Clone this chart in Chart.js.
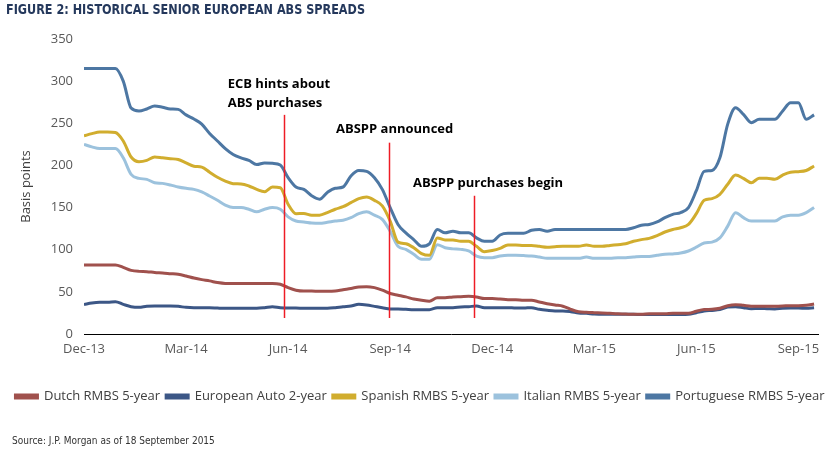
<!DOCTYPE html>
<html><head><meta charset="utf-8">
<script src="https://cdn.jsdelivr.net/npm/chart.js@4.4.1/dist/chart.umd.min.js"></script>
<style>
html,body{margin:0;padding:0;background:#fff;}
canvas{display:block;}
</style></head>
<body>
<canvas id="c" width="834" height="456"></canvas>
<script>
// ---------------- data ----------------
const titleText = 'FIGURE 2: HISTORICAL SENIOR EUROPEAN ABS SPREADS';
const sourceText = 'Source: J.P. Morgan as of 18 September 2015';
const yAxisTitle = 'Basis points';
const tickLabels = ['Dec-13','Mar-14','Jun-14','Sep-14','Dec-14','Mar-15','Jun-15','Sep-15'];
const tickWeeks = [0, 13, 26, 39, 52, 65, 78, 91];
const seriesNames = ['Dutch RMBS 5-year','European Auto 2-year','Spanish RMBS 5-year','Italian RMBS 5-year','Portuguese RMBS 5-year'];

// weekly observations, Dec-13 .. 18 Sep 2015 (basis points)
const dutch = [82,82,82,82,82,79,75.5,74.3,74,73,72.4,71.6,70.8,68.8,66.4,64.5,63,61,60,60,60,60,60,60,60,
  59,55,52,51,51,50.6,50.6,51,52.6,54,55.8,56.2,55,52,48,46,44,41.5,40,39,43,43,44,44.3,
  44.7,44,42,42,41.5,40.7,40.7,40,40,38,36,34.4,33,29.3,26.5,25.7,25.3,25,24.5,24,23.7,23.3,23.3,24,24,24,24.5,24.5,24.5,
  27,29,29.3,30.5,33.6,34.8,34,33,33,33,33,33.2,33.6,33.6,34,35.6];
const auto = [35,36.8,37.6,37.6,38.4,35.2,32.4,31.6,32.8,33.2,33.2,33.2,32.8,31.6,31.2,31.2,31.2,30.8,30.5,30.5,30.5,30.5,30.5,31.2,32.4,
  31.2,30.8,30.8,30.5,30.5,30.5,30.5,31.2,32.4,33.2,35.2,34.4,32.8,31.2,29.7,29.7,29.3,28.9,28.9,28.9,31.2,31.2,31.2,32,
  32.4,33.2,31.2,31.2,31.2,31.2,30.8,30.8,31.2,29.3,28.1,27.3,27.3,26.5,25,24.5,23.7,23.3,23.3,23.3,23.3,23.3,23,23,23,23,23,23,23.3,
  25.3,27.3,28,28.9,32,32.4,31.2,30,30.3,30,29.7,30.5,30.8,30.8,30.5,31.2];
const spanish = [235,237.7,239.7,239.7,239,229,210,204.5,206,210,209,208,207,203,199,198,192,186,181.5,178.4,178,175.6,171.6,168.9,174.4,
  173.6,154,142.8,143,141,141,144,148,151,155.8,160.6,162.5,158.6,152,134,109,107,102.4,95.3,93.3,114,111.5,111.5,110,
  110,104,97.7,99,101.6,105.6,105.6,105,105,104,103,103.6,104,104,104,105.6,104,104,105,106,107,110,112,113.5,116.7,121,124,126,130,
  142.8,158.6,160.6,165.7,177.6,188.6,184.7,179.5,184.7,184.7,183.5,188.6,192,192.6,194,199.3];
const italian = [225,222,220,220,220,209,189.4,184.7,183.5,179.5,178.7,176.8,174.4,172.8,171.6,168.5,163.7,158.6,153,150,150,148,145,148,150,
  148,139,134,133,131.7,131.3,132.5,134,135,138,142.8,145,141,136,122,104,100.4,94.5,88.6,88.6,106,102.4,101,100.4,
  98.5,92.5,90.6,90.6,92.5,93.3,93.3,93,92.5,91.3,89.8,89.8,89.8,89.8,89.8,91.3,89.8,89.8,89.8,90.6,90.6,91.3,92,92,93.3,94.5,95,96,98.5,
  103,108,109,114,128,144,138,134,134,134,134,139,141,141,144,150];
const portuguese = [315,315,315,315,315,300,268,264.5,267,270.5,269,267,266.5,260,255,249,238,229,220,213,209,206,201,203,202.5,
  200.5,185.5,174.4,171.6,164,160,168,173,174.4,187.5,194,193,185.5,171.6,150,130,120,112,104,107,124,120,122,120,
  120,114,110,110,117.5,119.4,119.4,119.4,123,124,122,124,124,124,124,124,124,124,124,124,124,126,129,130,133,138,142,144,150,
  170,193,194,209,249,268.5,260.6,250.7,254.7,254.7,254.7,264.6,274.4,274.4,254.7,260];

// event annotations (week of event, top of marker in bp)
const eventWeeks = [25.5, 38.8, 49.7];
const eventTops = [260, 227, 164];
const eventBottom = 19;
const eventLabels = [['ECB hints about','ABS purchases'], ['ABSPP announced'], ['ABSPP purchases begin']];
const eventLabelWeeks = [18.3, 32.1, 41.9];
const eventLabelValues = [296.5, 243, 179];

// ---------------- styles ----------------
const colors = ['#a0514d', '#3c5786', '#d1ad2e', '#9cc2dd', '#4d77a3'];
const seriesValues = [dutch, auto, spanish, italian, portuguese];
const FONT = '"Open Sans", "Segoe UI", sans-serif';
const NARROW = '"Liberation Sans Narrow", "DejaVu Sans Condensed", sans-serif';

function fitText(ctx, text, x, y, font, targetWidth) {
  ctx.font = font;
  const w = ctx.measureText(text).width;
  const k = Math.min(1, targetWidth / w);
  ctx.save();
  ctx.translate(x, y);
  ctx.scale(k, 1);
  ctx.fillText(text, 0, 0);
  ctx.restore();
}

const overlay = {
  id: 'overlay',
  afterDatasetsDraw(chart) {
    const {ctx, scales: {x, y}} = chart;
    ctx.save();
    ctx.strokeStyle = '#ee1c25';
    ctx.lineWidth = 1.5;
    eventWeeks.forEach((w, i) => {
      const px = Math.round(x.getPixelForValue(w)) + 0.5;
      ctx.beginPath();
      ctx.moveTo(px, y.getPixelForValue(eventTops[i]));
      ctx.lineTo(px, y.getPixelForValue(eventBottom));
      ctx.stroke();
    });
    ctx.fillStyle = '#000';
    ctx.font = 'bold 13px ' + FONT;
    ctx.textAlign = 'left';
    ctx.textBaseline = 'middle';
    eventLabels.forEach((lines, i) => {
      const lx = x.getPixelForValue(eventLabelWeeks[i]);
      const ly = y.getPixelForValue(eventLabelValues[i]);
      lines.forEach((t, j) => ctx.fillText(t, lx, ly + j * 19));
    });
    ctx.restore();
  },
  afterDraw(chart) {
    const ctx = chart.ctx;
    ctx.save();
    ctx.textAlign = 'left';
    ctx.textBaseline = 'middle';
    ctx.fillStyle = '#24385c';
    fitText(ctx, titleText, 6, 10, 'bold 14px ' + NARROW, 359);
    ctx.fillStyle = '#333';
    fitText(ctx, sourceText, 12, 441, '10px ' + NARROW, 204);
    ctx.restore();
  }
};

new Chart(document.getElementById('c'), {
  type: 'line',
  data: {
    datasets: seriesNames.map((name, k) => ({
      label: name,
      data: seriesValues[k].map((v, i) => ({x: i, y: v})),
      borderColor: colors[k],
      backgroundColor: colors[k],
      borderWidth: 3,
      pointRadius: 0,
      tension: 0.2,
      cubicInterpolationMode: 'monotone',
      fill: false
    }))
  },
  options: {
    responsive: false,
    animation: false,
    layout: {padding: {top: 39, right: 0, bottom: 43, left: 6}},
    plugins: {
      title: {display: false},
      tooltip: {enabled: false},
      legend: {
        position: 'bottom',
        labels: {
          boxWidth: 22, boxHeight: 3, padding: 6,
          color: '#404040',
          font: {family: FONT, size: 13}
        }
      }
    },
    scales: {
      x: {
        type: 'linear', min: 0, max: 93.5,
        grid: {display: false, drawTicks: false},
        border: {display: true, color: '#000', width: 1},
        afterBuildTicks: s => { s.ticks = tickWeeks.map(v => ({value: v})); },
        afterFit: s => { s.height = 50; },
        ticks: {
          autoSkip: false, maxRotation: 0, padding: 7,
          color: '#595959', font: {family: FONT, size: 13},
          callback: (v, i) => tickLabels[i]
        }
      },
      y: {
        min: 0, max: 350,
        grid: {display: false, drawTicks: false},
        border: {display: false},
        afterFit: s => { s.width = 78; },
        ticks: {stepSize: 50, padding: 11, color: '#595959', font: {family: FONT, size: 13}},
        title: {display: true, text: yAxisTitle, color: '#404040', font: {family: FONT, size: 13}, padding: {top: 12, bottom: 0}}
      },
      yRight: {
        position: 'right', display: true,
        grid: {display: false, drawTicks: false},
        border: {display: false},
        ticks: {display: false},
        afterFit: s => { s.width = 16; }
      }
    }
  },
  plugins: [overlay]
});
</script>
</body></html>
